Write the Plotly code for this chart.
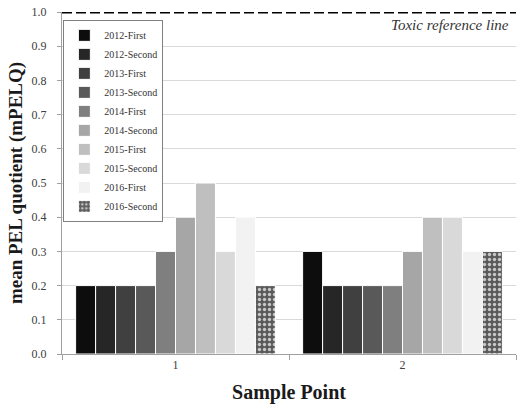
import plotly.graph_objects as go

sample_points = ["1", "2"]
series_names = ["2012-First", "2012-Second", "2013-First", "2013-Second", "2014-First",
                "2014-Second", "2015-First", "2015-Second", "2016-First", "2016-Second"]
series_values = [
    [0.2, 0.3],
    [0.2, 0.2],
    [0.2, 0.2],
    [0.2, 0.2],
    [0.3, 0.2],
    [0.4, 0.3],
    [0.5, 0.4],
    [0.3, 0.4],
    [0.4, 0.3],
    [0.2, 0.3],
]
series_colors = ["#0d0d0d", "#262626", "#404040", "#595959", "#7f7f7f",
                 "#a6a6a6", "#bfbfbf", "#d9d9d9", "#f2f2f2", "#606060"]
toxic_level = 1.0
y_ticks = [0.0, 0.1, 0.2, 0.3, 0.4, 0.5, 0.6, 0.7, 0.8, 0.9, 1.0]

SERIF = "Liberation Serif, Times New Roman, serif"

fig = go.Figure()
for i, (name, vals, col) in enumerate(zip(series_names, series_values, series_colors)):
    marker = dict(color=col, line=dict(color="white", width=1))
    if name == "2016-Second":
        marker["pattern"] = dict(shape=".", bgcolor="#5a5a5a", fgcolor="#c8c8c8",
                                 size=5, solidity=0.35, fillmode="replace")
    fig.add_trace(go.Bar(name=name, x=sample_points, y=vals, marker=marker))

fig.add_shape(type="line", xref="paper", x0=0, x1=1, yref="y", y0=toxic_level, y1=toxic_level,
              line=dict(color="black", width=3, dash="10px,4px"))
fig.add_annotation(text="Toxic reference line", xref="paper", x=0.99, yref="y", y=0.99,
                   xanchor="right", yanchor="top", showarrow=False,
                   font=dict(family=SERIF, size=15, color="#333333", style="italic"))

fig.update_layout(
    width=519, height=405,
    margin=dict(l=62, r=3, t=12, b=51),
    paper_bgcolor="white", plot_bgcolor="white",
    barmode="group", bargap=0.12, bargroupgap=0,
    font=dict(family=SERIF, color="#404040"),
    legend=dict(x=0.003, y=0.977, xanchor="left", yanchor="top",
                bgcolor="white", bordercolor="#808080", borderwidth=1,
                font=dict(family=SERIF, size=10, color="#333333"),
                itemwidth=30, tracegroupgap=0),
    showlegend=True,
)
fig.update_xaxes(
    type="category", showline=True, linecolor="#a0a0a0", linewidth=1,
    ticks="outside", tickson="boundaries", ticklen=5, tickcolor="#a0a0a0",
    tickfont=dict(family=SERIF, size=12, color="#404040"),
    title=dict(text="<b>Sample Point</b>", font=dict(family=SERIF, size=20, color="#1a1a1a"), standoff=13),
    showgrid=False,
)
fig.update_yaxes(
    range=[0, 1.0], tickvals=y_ticks, tickformat=".1f",
    showline=True, linecolor="#a0a0a0", linewidth=1,
    ticks="outside", ticklen=4, tickcolor="#a0a0a0", ticklabelstandoff=8,
    showgrid=True, gridcolor="#d9d9d9", gridwidth=1, zeroline=False,
    tickfont=dict(family=SERIF, size=12, color="#404040"),
    title=dict(text="<b>mean PEL quotient (mPELQ)</b>", font=dict(family=SERIF, size=19, color="#1a1a1a"), standoff=3),
)

fig.write_html("out.html")
